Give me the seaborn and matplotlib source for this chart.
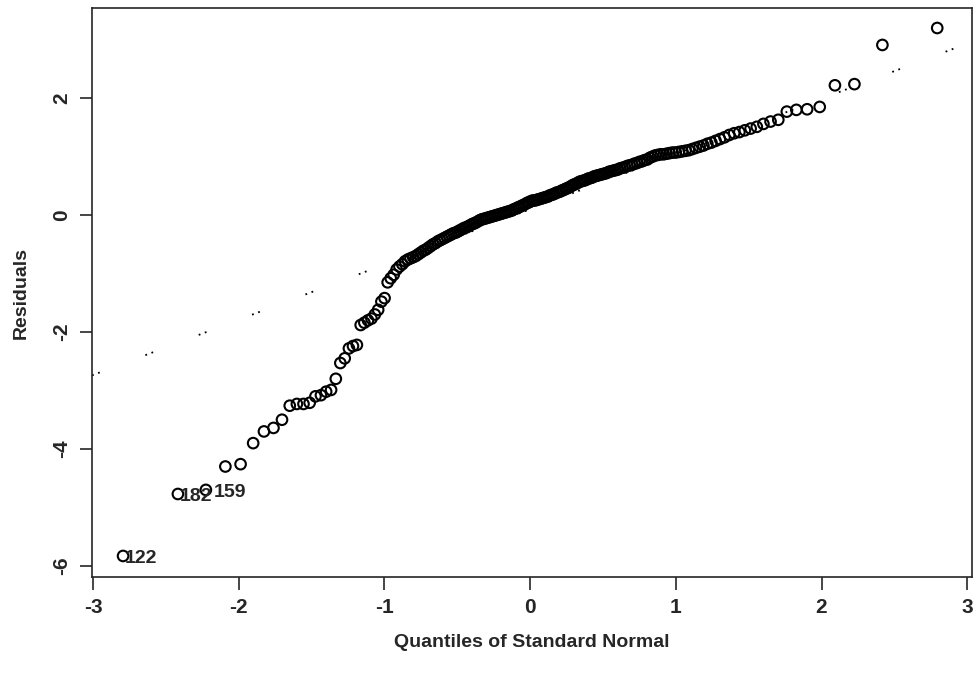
import statistics
import numpy as np
import pandas as pd
import matplotlib
matplotlib.use("Agg")
import matplotlib.pyplot as plt
import seaborn as sns

residuals = [
    -5.83, -4.77, -4.70, -4.30, -4.26, -3.90, -3.70, -3.64, -3.50, -3.26,
    -3.23, -3.23, -3.21, -3.10, -3.08, -3.02, -2.99, -2.80, -2.53, -2.45,
    -2.28, -2.24, -2.22, -1.88, -1.84, -1.80, -1.77, -1.70, -1.62, -1.48,
    -1.42, -1.15, -1.08, -1.02, -0.93, -0.88, -0.84, -0.79, -0.76, -0.74,
    -0.72, -0.70, -0.67, -0.64, -0.61, -0.59, -0.56, -0.53, -0.50, -0.48,
    -0.45, -0.43, -0.41, -0.39, -0.37, -0.35, -0.33, -0.31, -0.30, -0.28,
    -0.26, -0.24, -0.22, -0.21, -0.19, -0.17, -0.15, -0.14, -0.12, -0.10,
    -0.08, -0.07, -0.06, -0.05, -0.04, -0.03, -0.02, -0.01, 0.00, 0.01,
    0.02, 0.03, 0.04, 0.05, 0.06, 0.07, 0.08, 0.10, 0.11, 0.13,
    0.14, 0.16, 0.17, 0.19, 0.21, 0.22, 0.24, 0.25, 0.25, 0.26,
    0.27, 0.28, 0.29, 0.30, 0.31, 0.32, 0.34, 0.35, 0.36, 0.38,
    0.39, 0.40, 0.42, 0.43, 0.45, 0.46, 0.48, 0.50, 0.52, 0.53,
    0.55, 0.57, 0.58, 0.59, 0.60, 0.62, 0.63, 0.64, 0.66, 0.67,
    0.68, 0.69, 0.70, 0.71, 0.72, 0.74, 0.75, 0.76, 0.77, 0.78,
    0.80, 0.81, 0.82, 0.84, 0.85, 0.86, 0.88, 0.89, 0.91, 0.92,
    0.94, 0.95, 0.98, 1.00, 1.02, 1.03, 1.04, 1.04, 1.05, 1.06,
    1.07, 1.07, 1.08, 1.09, 1.10, 1.11, 1.13, 1.15, 1.17, 1.19,
    1.22, 1.24, 1.27, 1.30, 1.33, 1.37, 1.40, 1.42, 1.45, 1.48,
    1.51, 1.56, 1.60, 1.63, 1.77, 1.80, 1.81, 1.85, 2.22, 2.24,
    2.91, 3.20,
]

# observations flagged on the plot (rank in sorted order -> case id)
flag_ranks = [1, 2, 3]
flag_ids = ["122", "182", "159"]

# reference line through the quartiles
line_intercept = 0.10
line_slope = 0.945

x_ticks = [-3, -2, -1, 0, 1, 2, 3]
y_ticks = [-6, -4, -2, 0, 2]

# qqnorm plotting positions: (i - 0.5) / n
n = len(residuals)
nd = statistics.NormalDist()
quantiles = [nd.inv_cdf((i - 0.5) / n) for i in range(1, n + 1)]
df = pd.DataFrame({"q": quantiles, "res": residuals})

sns.set_style("ticks")
plt.rcParams["font.family"] = ["Liberation Sans Narrow", "Liberation Sans", "DejaVu Sans"]
plt.rcParams["font.weight"] = "bold"
plt.rcParams["axes.unicode_minus"] = False

fig = plt.figure(figsize=(9.8, 6.77), dpi=100)
ax = fig.add_axes([0.0939, 0.1477, 0.898, 0.8403])

xlim = (-3.007, 3.033)
line_df = pd.DataFrame({"q": list(xlim)})
line_df["res"] = line_intercept + line_slope * line_df["q"]
sns.lineplot(data=line_df, x="q", y="res", ax=ax, color="black",
             linewidth=1.3, linestyle=(0, (1, 2.6, 1, 27)))

sns.scatterplot(data=df, x="q", y="res", ax=ax, marker="o", s=58,
                facecolor="none", edgecolor="black", linewidth=1.5)

# labels 182 and 159 sit side by side; nudge the second so they just touch
label_dx = {"159": 5.5}
for rank, lab in zip(flag_ranks, flag_ids):
    ax.annotate(lab, (df.q[rank - 1], df.res[rank - 1]),
                xytext=(label_dx.get(lab, 1.5), -2),
                textcoords="offset points", ha="left", va="center",
                fontsize=14, fontweight="bold")

ax.set_xlim(*xlim)
ax.set_ylim(-6.19, 3.54)
ax.set_xticks(x_ticks)
ax.set_yticks(y_ticks)
ax.set_xticklabels([str(t) for t in x_ticks])
ax.set_yticklabels([str(t) for t in y_ticks], rotation=90, va="center")
ax.tick_params(direction="out", length=9, width=1.2, labelsize=15, pad=6)
for s in ax.spines.values():
    s.set_visible(True)
    s.set_linewidth(1.2)

ax.set_xlabel("Quantiles of Standard Normal", fontsize=14, fontweight="bold", labelpad=12)
ax.set_ylabel("Residuals", fontsize=14, fontweight="bold", labelpad=16)

fig.savefig("out.png", dpi=100)
